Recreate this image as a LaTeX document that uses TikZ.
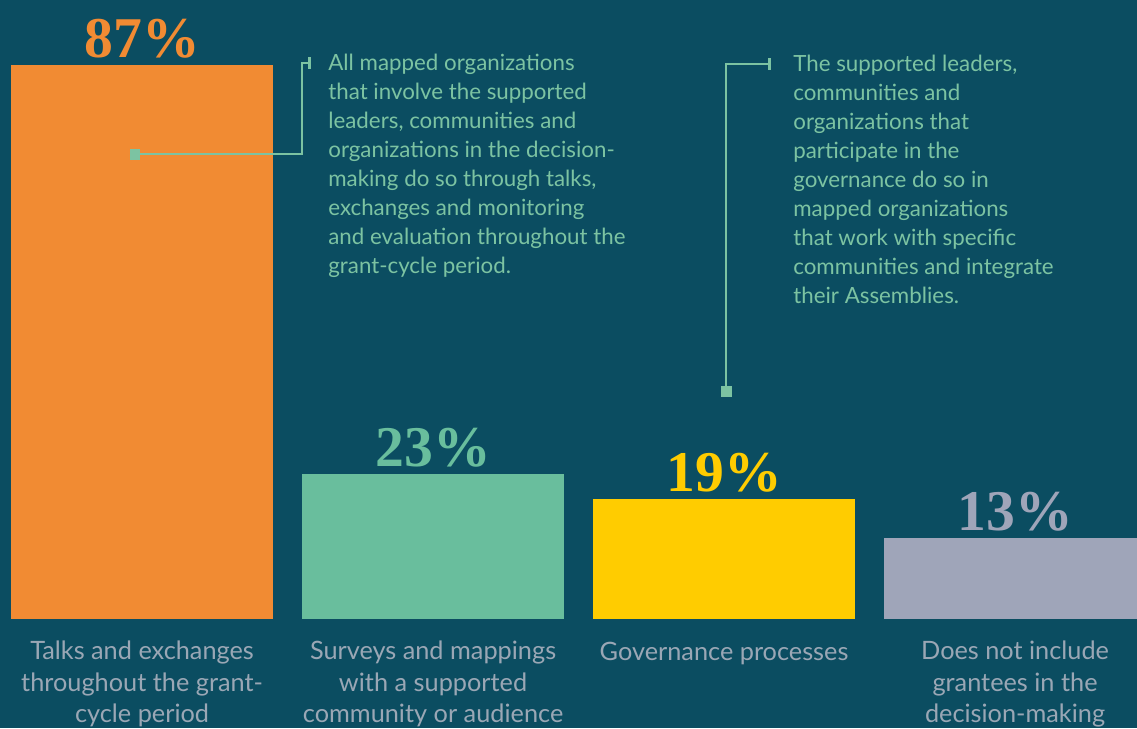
\documentclass[tikz,border=0pt]{standalone}
\usepackage{fontspec}
\setmainfont{Lato}
\newfontfamily\numfont{Liberation Serif}
\usetikzlibrary{arrows.meta, positioning}

\definecolor{bgteal}{HTML}{0B4D61}
\definecolor{barorange}{HTML}{F18B33}
\definecolor{bargreen}{HTML}{69BE9D}
\definecolor{baryellow}{HTML}{FFCC00}
\definecolor{bargrey}{HTML}{9FA5B9}
\definecolor{labelgrey}{HTML}{9AA7B5}
\definecolor{notegreen}{HTML}{7CC3A2}

\begin{document}
\begin{tikzpicture}[x=0.02cm, y=-0.02cm,
    bar/.style={anchor=south west, inner sep=0, minimum width=5.23cm},
    pct/.style={font=\numfont\bfseries\fontsize{32.8}{33}\selectfont, anchor=base, inner sep=0},
    caption/.style={font=\fontsize{14.4}{18}\selectfont, text=labelgrey, align=center, anchor=base, inner sep=0},
    note/.style={font=\fontsize{12.7}{16.45}\selectfont, text=notegreen, align=left, anchor=base west, inner sep=0},
    leader/.style={draw=notegreen, line width=1.6pt, -{Bar[width=0.24cm, line width=1.6pt]}},
    dot/.style={fill=notegreen, minimum size=0.22cm, inner sep=0}]
    % fond
    \fill[bgteal] (0,0) rectangle (1137,728);
    \useasboundingbox (0,0) rectangle (1137,728);

    % barres
    \foreach \i/\xa/\ytop/\col/\pc in {1/11/65/barorange/87, 2/302/474/bargreen/23, 3/593/499/baryellow/19, 4/884/538/bargrey/13} {
        \node[bar, fill=\col, minimum height={(619-\ytop)*0.02cm}] (bar\i) at (\xa,619) {};
        \node[pct, text=\col] (pct\i) at ([yshift=0.14cm]bar\i.north) {\pc\%};
    }

    % legendes (base = derniere ligne)
    \foreach \i/\dy/\txt in {1/2.08/{Talks and exchanges\\throughout the grant-\\cycle period},
                             2/2.08/{Surveys and mappings\\with a supported\\community or audience},
                             3/0.82/{Governance processes},
                             4/2.08/{Does not include\\grantees in the\\decision-making}} {
        \node[caption] (cap\i) at ([yshift=-\dy cm]bar\i.south) {\txt};
    }

    % notes
    \node[note] (note1) at (328,273) {All mapped organizations\\that involve the supported\\leaders, communities and\\organizations in the decision-\\making do so through talks,\\exchanges and monitoring\\and evaluation throughout the\\grant-cycle period.};
    \node[note] (note2) at (793,303) {The supported leaders,\\communities and\\organizations that\\participate in the\\governance do so in\\mapped organizations\\that work with specific\\communities and integrate\\their Assemblies.};

    % renvois
    \node[dot] (dot1) at (135,154) {};
    \node[dot] (dot2) at (726,391) {};
    \coordinate (bend1) at (302,63);
    \coordinate (tick1) at (311,63);
    \coordinate (bend2) at (726,64);
    \coordinate (tick2) at (771,64);
    \draw[leader] (dot1.center) -| (bend1) -- (tick1);
    \draw[leader] (dot2.center) -- (bend2) -- (tick2);
\end{tikzpicture}
\end{document}
